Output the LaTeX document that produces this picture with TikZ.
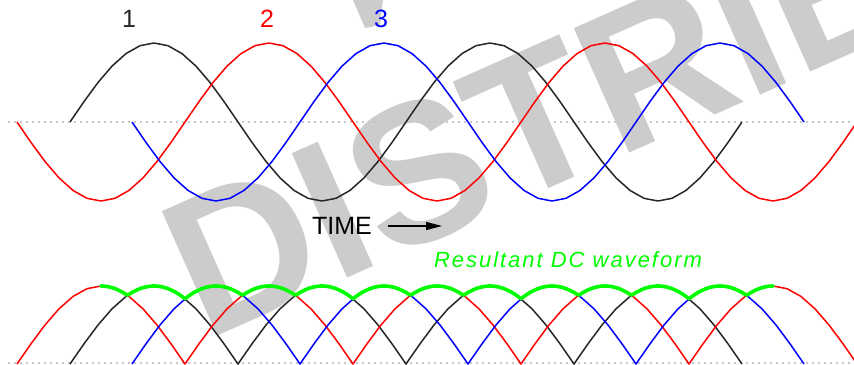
\documentclass[tikz,border=0pt]{standalone}
\usepackage{fontspec}
\setmainfont{Liberation Sans}
\newfontfamily\dcfont{Liberation Sans Italic}[LetterSpace=9]
\usetikzlibrary{arrows.meta}
\definecolor{WaveRed}{RGB}{255,0,0}
\definecolor{WaveBlue}{RGB}{0,0,255}
\definecolor{DCGreen}{RGB}{0,255,0}
\definecolor{StampGray}{RGB}{204,204,204}
\definecolor{AxisGray}{RGB}{200,200,200}

\tikzset{
  wave/.style={line width=0.75pt,line join=round},
  phaseone/.style={wave,black!85},
  phasetwo/.style={wave,WaveRed},
  phasethree/.style={wave,WaveBlue},
  dcline/.style={line width=1.8pt,DCGreen,line join=round,line cap=round},
  zeroline/.style={AxisGray,line width=0.6pt,dash pattern=on 1pt off 2pt},
  tag/.style={font=\fontsize{12.5}{14}\selectfont,inner sep=0pt},
}

% x in px, #1 = rising zero crossing of the phase
\newcommand{\acval}[1]{122-79*sin((\x-#1)/336*360)}
\newcommand{\rectval}[1]{364-78*abs(sin((\x-#1)/336*360))}

\begin{document}
\begin{tikzpicture}[x=0.5pt,y=-0.5pt]
  \useasboundingbox (0,0) rectangle (854,364);
  \clip (0,0) rectangle (854,364);

  % stamp in the back
  \node[text=StampGray,font=\bfseries\fontsize{99}{99}\selectfont,rotate=24,
    anchor=base west,inner sep=0pt] (stamp) at (205,342) {DISTRIB};
  \fill[StampGray] (353,0) -- (383,0) -- (380,25) -- (365,28) -- cycle;

  % zero lines
  \draw[zeroline] (8,122) -- (854,122);
  \draw[zeroline] (8,363) -- (854,363);

  % three phase AC
  \draw[phaseone] plot[domain=70:742,samples=49] (\x,{\acval{70}});
  \draw[phasetwo] plot[domain=17:857,samples=61] (\x,{\acval{185}});
  \draw[phasethree] plot[domain=132:804,samples=49] (\x,{\acval{300}});

  \node[tag,black!85] (one) at (129,19) {1};
  \node[tag,WaveRed] (two) at (267,19) {2};
  \node[tag,WaveBlue] (three) at (381,19) {3};

  \node[tag] (time) at (342,226) {TIME};
  \coordinate (timetip) at (442,226);
  \draw[line width=0.6pt,shorten <=8pt,-{Triangle[length=8pt,width=4pt]}] (time.east) -- (timetip);

  % rectified
  \draw[phaseone] plot[domain=70:742,samples=49] (\x,{\rectval{70}});
  \draw[phasetwo] plot[domain=17:857,samples=61] (\x,{\rectval{185}});
  \draw[phasethree] plot[domain=132:804,samples=49] (\x,{\rectval{300}});
  \draw[dcline] plot[domain=101:773,samples=337]
    (\x,{364-78*max(abs(sin((\x-70)/336*360)),abs(sin((\x-185)/336*360)),abs(sin((\x-300)/336*360)))});

  \node[tag,text=DCGreen,font=\dcfont\fontsize{11}{13}\selectfont] (dclabel) at (568,260) {Resultant DC waveform};
\end{tikzpicture}
\end{document}
